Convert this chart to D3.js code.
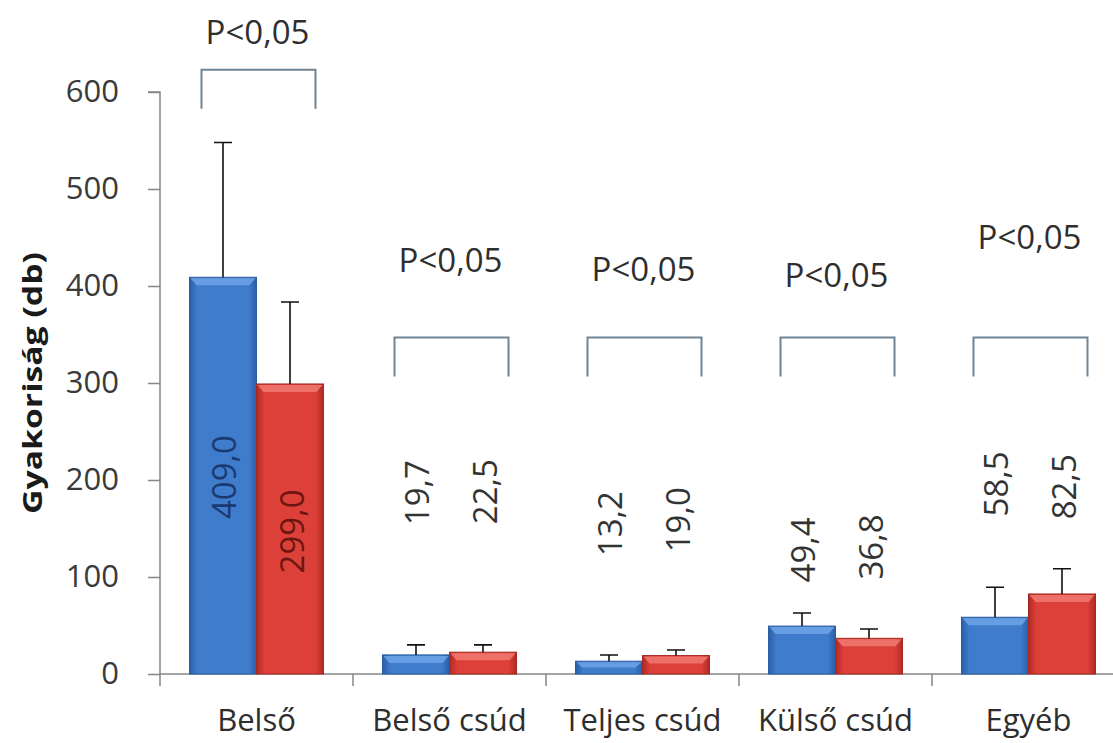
<!DOCTYPE html>
<html>
<head>
<meta charset="utf-8">
<script src="https://cdn.jsdelivr.net/npm/d3@7"></script>
<style>
  html, body { margin: 0; padding: 0; background: #ffffff; }
  svg { display: block; }
  text { font-family: "Open Sans", "DejaVu Sans", sans-serif; }
</style>
</head>
<body>
<svg id="chart" width="1113" height="743"></svg>
<script>
// ---- data ----
const categories = ["Belső", "Belső csúd", "Teljes csúd", "Külső csúd", "Egyéb"];
const series = ["A", "B"];
const valuesA = [409.0, 19.7, 13.2, 49.4, 58.5];
const valuesB = [299.0, 22.5, 19.0, 36.8, 82.5];
const errorsA = [139, 10.3, 6.4, 13.5, 31];
const errorsB = [84.5, 7.5, 5.7, 9.6, 26];
const labelsA = ["409,0", "19,7", "13,2", "49,4", "58,5"];
const labelsB = ["299,0", "22,5", "19,0", "36,8", "82,5"];
const yTicks = [0, 100, 200, 300, 400, 500, 600];
const pTexts = ["P<0,05", "P<0,05", "P<0,05", "P<0,05", "P<0,05"];
const yTitle = "Gyakoriság (db)";
// annotation levels (in data units)
const labelLevelA = [203, 187, 155, 128, 196];
const labelLevelB = [147, 188, 159, 131, 193];
const pTextLevel = [650, 414, 405, 399, 438];
const bracketLevel = [623, 347, 347, 347, 347];

// ---- layout ----
const svg = d3.select("#chart");
const axisX = 160, x0Right = 1125, yTop = 92, yBottom = 674;

const x0 = d3.scaleBand().domain(categories).range([axisX, x0Right]).paddingInner(0).paddingOuter(0);
const x1 = d3.scaleBand().domain(series).range([0, x0.bandwidth()]).paddingInner(0).paddingOuter(0.44);
const y = d3.scaleLinear().domain([0, 600]).range([yBottom, yTop]);

const rows = categories.map((c, i) => ({
  cat: c,
  bars: [
    { s: "A", v: valuesA[i], e: errorsA[i], label: labelsA[i], lvl: labelLevelA[i] },
    { s: "B", v: valuesB[i], e: errorsB[i], label: labelsB[i], lvl: labelLevelB[i] }
  ],
  p: pTexts[i], pLvl: pTextLevel[i], bLvl: bracketLevel[i], idx: i
}));

// gradients
const defs = svg.append("defs");
function makeGrad(id, edge, mid) {
  const g = defs.append("linearGradient").attr("id", id).attr("x1", "0").attr("x2", "1").attr("y1", "0").attr("y2", "0");
  g.append("stop").attr("offset", "0%").attr("stop-color", edge);
  g.append("stop").attr("offset", "12%").attr("stop-color", mid);
  g.append("stop").attr("offset", "88%").attr("stop-color", mid);
  g.append("stop").attr("offset", "100%").attr("stop-color", edge);
}
makeGrad("gradA", "#2a5ea8", "#3f7dcc");
makeGrad("gradB", "#b02a25", "#dc4038");
const colors = { A: { fill: "url(#gradA)", top: "#6fa3e6", stroke: "#2b5c9e", text: "#1b3a70" },
                 B: { fill: "url(#gradB)", top: "#f07a72", stroke: "#a32822", text: "#6e1512" } };

// ---- axes ----
const yAxis = d3.axisLeft(y).tickValues(yTicks).tickSize(12).tickPadding(29).tickFormat(d3.format("d"));
const gy = svg.append("g").attr("transform", `translate(${axisX},0)`).call(yAxis);
gy.select(".domain").attr("stroke", "#868686").attr("stroke-width", 1.5).attr("d", `M-12,${yTop}H0V${yBottom}`);
gy.selectAll(".tick line").attr("stroke", "#868686").attr("stroke-width", 1.5);
gy.selectAll(".tick text").attr("font-size", 31).attr("fill", "#3a3a3a")
  .style("font-family", '"Open Sans", sans-serif');

// x axis
const gx = svg.append("g").attr("transform", `translate(0,${yBottom})`);
gx.append("line").attr("x1", axisX).attr("x2", 1113).attr("y1", 0).attr("y2", 0)
  .attr("stroke", "#868686").attr("stroke-width", 1.5);
const boundaries = [axisX].concat(categories.slice(1).map(c => x0(c)));
gx.selectAll("line.sep").data(boundaries).join("line").attr("class", "sep")
  .attr("x1", d => d).attr("x2", d => d).attr("y1", 0).attr("y2", 12)
  .attr("stroke", "#868686").attr("stroke-width", 1.5);
gx.selectAll("text.cat").data(categories).join("text").attr("class", "cat")
  .attr("x", d => x0(d) + x0.bandwidth() / 2).attr("y", 57)
  .attr("text-anchor", "middle").attr("font-size", 31).attr("fill", "#2e2e2e").text(d => d);

// y title
svg.append("text")
  .attr("transform", `translate(42,${y(300)}) rotate(-90)`)
  .attr("text-anchor", "middle").attr("font-size", 27).attr("font-weight", "bold").attr("fill", "#1a1a1a")
  .attr("textLength", 262).attr("lengthAdjust", "spacingAndGlyphs")
  .text(yTitle);

// ---- bars ----
const groups = svg.selectAll("g.grp").data(rows).join("g").attr("class", "grp")
  .attr("transform", d => `translate(${x0(d.cat)},0)`);

groups.selectAll("rect.bar").data(d => d.bars).join("rect").attr("class", "bar")
  .attr("x", d => x1(d.s)).attr("width", x1.bandwidth())
  .attr("y", d => y(d.v)).attr("height", d => y(0) - y(d.v))
  .attr("fill", d => colors[d.s].fill).attr("stroke", d => colors[d.s].stroke).attr("stroke-width", 1);

// top bevel highlight
groups.selectAll("path.bevel").data(d => d.bars).join("path").attr("class", "bevel")
  .attr("d", d => {
    const xl = x1(d.s), w = x1.bandwidth(), yt = y(d.v);
    const h = Math.min(8, (y(0) - yt) / 2);
    return `M${xl + 1},${yt + 1}H${xl + w - 1}L${xl + w - 7},${yt + h}H${xl + 7}Z`;
  })
  .attr("fill", d => colors[d.s].top).attr("opacity", 0.85);

// error bars
const capHalf = 9;
groups.selectAll("path.err").data(d => d.bars).join("path").attr("class", "err")
  .attr("d", d => {
    const cx = x1(d.s) + x1.bandwidth() / 2;
    const yt = y(d.v + d.e), yb = y(d.v);
    return `M${cx},${yb}V${yt}M${cx - capHalf},${yt}H${cx + capHalf}`;
  })
  .attr("stroke", "#111").attr("stroke-width", 1.6).attr("fill", "none");

// value labels
groups.selectAll("text.val").data(d => d.bars.map(b => Object.assign({ first: d.idx === 0 }, b))).join("text").attr("class", "val")
  .attr("transform", d => `translate(${x1(d.s) + x1.bandwidth() / 2 + 1},${y(d.lvl)}) rotate(-90)`)
  .attr("text-anchor", "middle").attr("dominant-baseline", "central")
  .attr("font-size", 33).attr("fill", d => d.first ? colors[d.s].text : "#333333")
  .text(d => d.label);

// brackets and P labels
const bw = 114;
groups.append("path")
  .attr("d", d => {
    const cx = x0.bandwidth() / 2 + 2;
    const yt = y(d.bLvl);
    return `M${cx - bw / 2},${yt + 39}V${yt}H${cx + bw / 2}V${yt + 39}`;
  })
  .attr("stroke", "#6f8494").attr("stroke-width", 2).attr("fill", "none");

groups.append("text")
  .attr("x", x0.bandwidth() / 2 + 1).attr("y", d => y(d.pLvl))
  .attr("text-anchor", "middle").attr("font-size", 33).attr("fill", "#2e2e2e")
  .text(d => d.p);
</script>
</body>
</html>
